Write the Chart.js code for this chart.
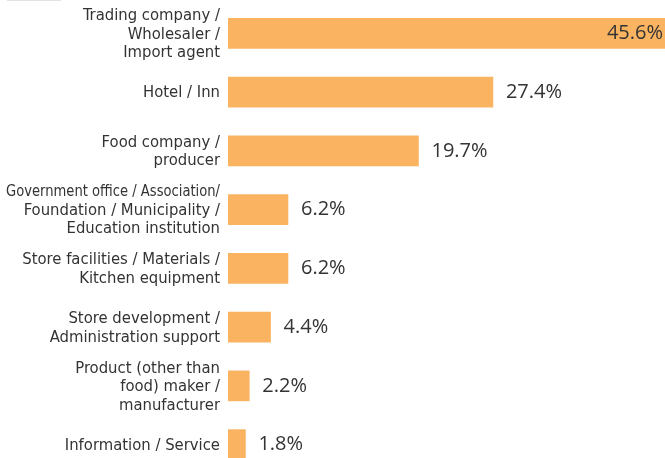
<!DOCTYPE html>
<html>
<head>
<meta charset="utf-8">
<script src="https://cdn.jsdelivr.net/npm/chart.js@4/dist/chart.umd.min.js"></script>
<style>
  html, body { margin: 0; padding: 0; background: #fff; overflow: hidden; }
  #wrap { position: relative; width: 665px; height: 476px; }
  #mark { position: absolute; left: 7px; top: 0; width: 54px; height: 1px; background: #e2e2e2; }
</style>
</head>
<body>
<div id="wrap">
  <div id="mark"></div>
  <canvas id="chart" width="665" height="476"></canvas>
</div>
<script>
// categories (multi-line labels as drawn)
const categories = [
  ['Trading company /', 'Wholesaler /', 'Import agent'],
  ['Hotel / Inn'],
  ['Food company /', 'producer'],
  ['Government office / Association/', 'Foundation / Municipality /', 'Education institution'],
  ['Store facilities / Materials /', 'Kitchen equipment'],
  ['Store development /', 'Administration support'],
  ['Product (other than', 'food) maker /', 'manufacturer'],
  ['Information / Service']
];
const shares = [45.6, 27.4, 19.7, 6.2, 6.2, 4.4, 2.2, 1.8];

const labelFont = "16.5px 'Liberation Sans Narrow', 'DejaVu Sans Condensed', sans-serif";

// category labels: right aligned, squeezed when a line is too long
const categoryLabels = {
  id: 'categoryLabels',
  afterDraw(chart) {
    const ctx = chart.ctx;
    const y = chart.scales.y;
    const right = chart.chartArea.left - 8;
    const lh = 18.5;
    ctx.save();
    ctx.font = labelFont;
    ctx.fillStyle = '#333';
    ctx.textAlign = 'right';
    ctx.textBaseline = 'middle';
    categories.forEach((lines, i) => {
      const cy = y.getPixelForTick(i) + 1;
      lines.forEach((line, j) => {
        const ly = cy + (j - (lines.length - 1) / 2) * lh;
        ctx.fillText(line, right, ly, right - 6);
      });
    });
    ctx.restore();
  }
};

// value labels next to (or inside) each bar
const valueLabels = {
  id: 'valueLabels',
  afterDatasetsDraw(chart) {
    const ctx = chart.ctx;
    const area = chart.chartArea;
    const meta = chart.getDatasetMeta(0);
    ctx.save();
    ctx.font = "20px 'Open Sans', sans-serif";
    ctx.fillStyle = '#333';
    ctx.textBaseline = 'middle';
    meta.data.forEach((bar, i) => {
      const txt = shares[i].toFixed(1) + '%';
      if (bar.x >= area.right - 2) {
        ctx.textAlign = 'right';
        ctx.fillText(txt, area.right - 2, bar.y);
      } else {
        ctx.textAlign = 'left';
        ctx.fillText(txt, bar.x + 13, bar.y);
      }
    });
    ctx.restore();
  }
};

new Chart(document.getElementById('chart'), {
  type: 'bar',
  data: {
    labels: categories,
    datasets: [{
      data: shares,
      backgroundColor: '#f9b361',
      borderWidth: 0,
      barThickness: 30
    }]
  },
  options: {
    indexAxis: 'y',
    responsive: false,
    animation: false,
    layout: { padding: { top: 4, bottom: 2, left: 0, right: 0 } },
    plugins: { legend: { display: false }, tooltip: { enabled: false } },
    scales: {
      x: { display: false, min: 0, max: 45.2 },
      y: {
        grid: { display: false },
        border: { display: false },
        ticks: { display: false },
        afterFit: s => {
          s.width = 228;
          s.paddingTop = 0;
          s.paddingBottom = 0;
        }
      }
    }
  },
  plugins: [categoryLabels, valueLabels]
});
</script>
</body>
</html>
